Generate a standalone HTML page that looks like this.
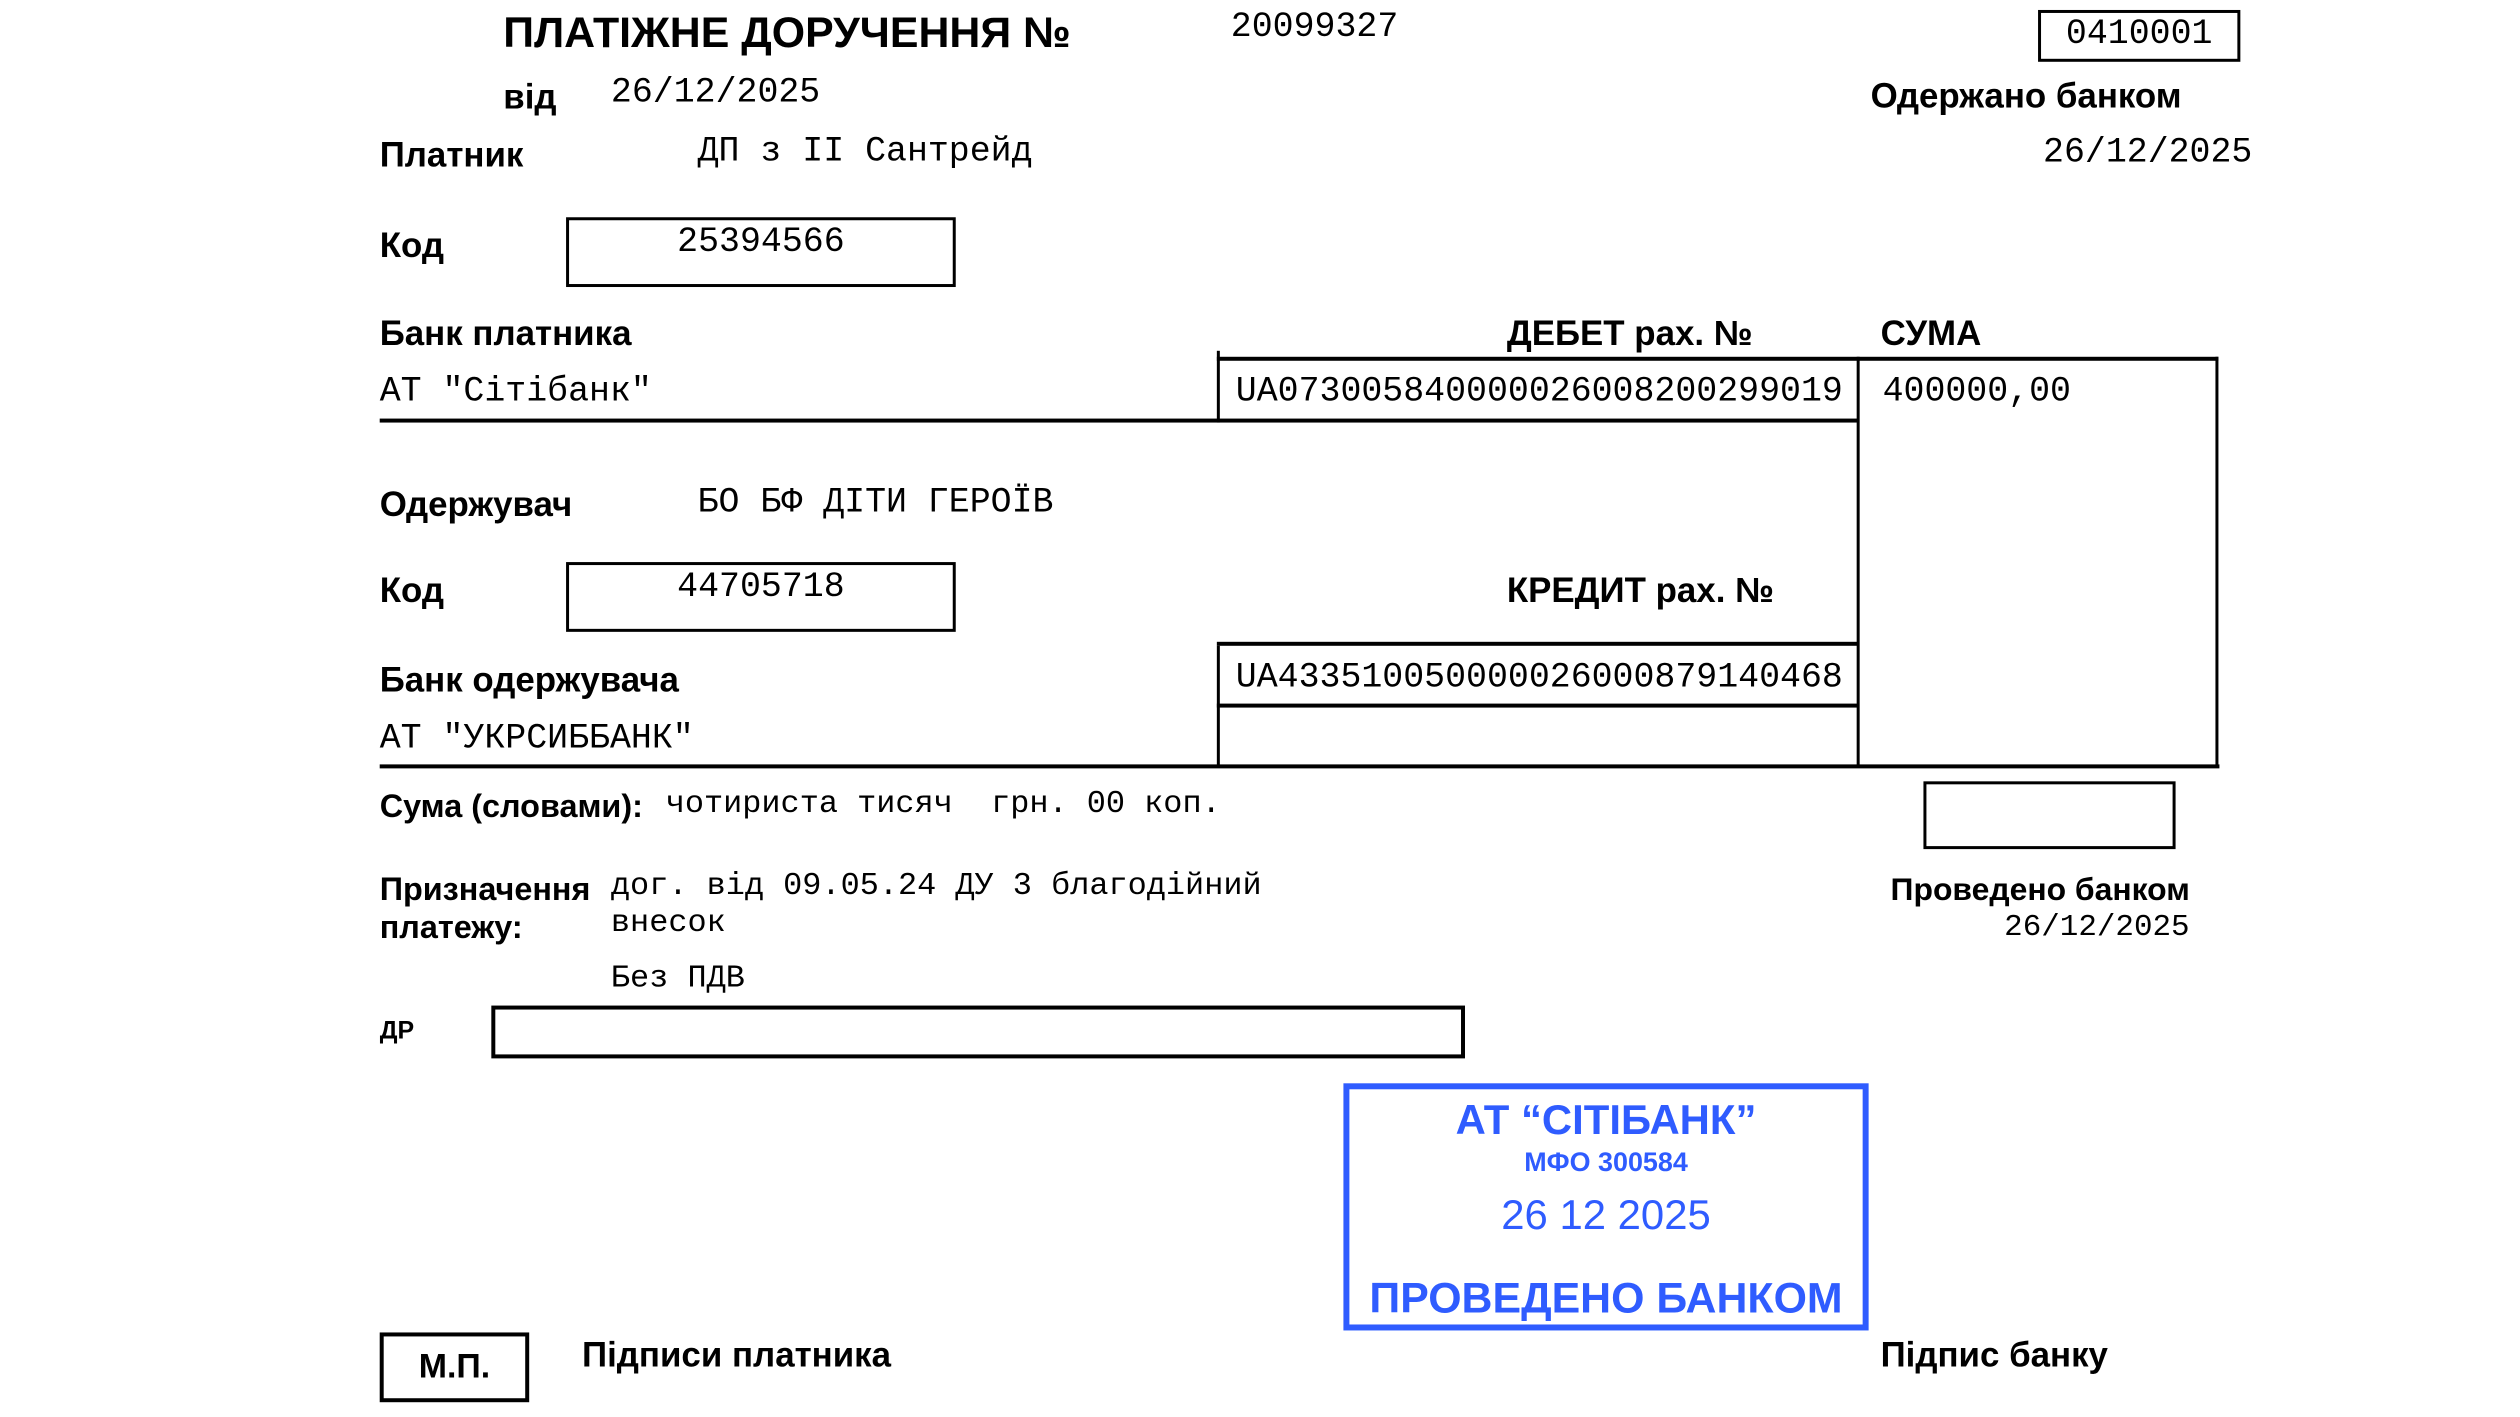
<!DOCTYPE html>
<html><head><meta charset="utf-8"><style>
body{margin:0;width:2520px;height:1417px;background:#fff;position:relative;overflow:hidden}
#w{position:absolute;left:0;top:0;width:2530px;height:1422px;transform:scale(0.9966);transform-origin:0 0}
.t{position:absolute;line-height:1;white-space:pre;color:#000}
.b{font-family:"Liberation Sans",sans-serif;font-weight:bold;font-size:35px}
.m{font-family:"Liberation Mono",monospace;font-size:35px}
.box{position:absolute;border:3px solid #000;box-sizing:border-box}
.h{position:absolute;background:#000;height:4px}
.v{position:absolute;background:#000;width:3px}
.s{position:absolute;left:1348px;width:527px;text-align:center;color:#2f5cff;font-family:"Liberation Sans",sans-serif;line-height:1}
</style></head><body><div id="w">
<div class="t b" style="left:505px;top:12px;font-size:43px">ПЛАТІЖНЕ ДОРУЧЕННЯ №</div>
<div class="t m" style="left:1235px;top:10px;font-size:35px">20099327</div>
<div class="box" style="left:2045px;top:10px;width:203px;height:52px"></div>
<div class="t m" style="left:2045px;top:17px;width:203px;text-align:center;font-size:35px">0410001</div>
<div class="t b" style="left:505px;top:80px">від</div>
<div class="t m" style="left:613px;top:76px">26/12/2025</div>
<div class="t b" style="left:1877px;top:79px">Одержано банком</div>
<div class="t b" style="left:381px;top:138px">Платник</div>
<div class="t m" style="left:700px;top:135px">ДП з ІІ Сантрейд</div>
<div class="t m" style="left:2050px;top:136px">26/12/2025</div>
<div class="t b" style="left:381px;top:229px">Код</div>
<div class="box" style="left:568px;top:218px;width:391px;height:70px"></div>
<div class="t m" style="left:568px;top:226px;width:391px;text-align:center">25394566</div>
<div class="t b" style="left:381px;top:317px">Банк платника</div>
<div class="t b" style="left:1512px;top:317px">ДЕБЕТ рах. №</div>
<div class="t b" style="left:1887px;top:317px">СУМА</div>
<div class="v" style="left:1221px;top:352px;height:72px"></div>
<div class="h" style="left:1221px;top:358px;width:1005px"></div>
<div class="v" style="left:1863px;top:358px;height:412px"></div>
<div class="v" style="left:2223px;top:358px;height:412px"></div>
<div class="t m" style="left:381px;top:376px">АТ "Сітібанк"</div>
<div class="t m" style="left:1240px;top:376px">UA073005840000026008200299019</div>
<div class="t m" style="left:1889px;top:376px">400000,00</div>
<div class="h" style="left:381px;top:420px;width:1484px"></div>
<div class="t b" style="left:381px;top:489px">Одержувач</div>
<div class="t m" style="left:700px;top:487px">БО БФ ДІТИ ГЕРОЇВ</div>
<div class="t b" style="left:381px;top:575px">Код</div>
<div class="box" style="left:568px;top:564px;width:391px;height:70px"></div>
<div class="t m" style="left:568px;top:572px;width:391px;text-align:center">44705718</div>
<div class="t b" style="left:1512px;top:575px">КРЕДИТ рах. №</div>
<div class="h" style="left:1221px;top:644px;width:644px"></div>
<div class="v" style="left:1221px;top:648px;height:122px"></div>
<div class="t m" style="left:1240px;top:663px">UA433510050000026000879140468</div>
<div class="h" style="left:1221px;top:706px;width:644px"></div>
<div class="t b" style="left:381px;top:665px">Банк одержувача</div>
<div class="t m" style="left:381px;top:724px">АТ "УКРСИББАНК"</div>
<div class="h" style="left:381px;top:767px;width:1846px"></div>
<div class="t b" style="left:381px;top:793px;font-size:32.5px">Сума (словами):</div>
<div class="t m" style="left:668px;top:791px;font-size:32px">чотириста тисяч  грн. 00 коп.</div>
<div class="box" style="left:1930px;top:784px;width:253px;height:68px"></div>
<div class="t b" style="left:381px;top:876px;font-size:32.5px">Призначення</div>
<div class="t b" style="left:381px;top:914px;font-size:32.5px">платежу:</div>
<div class="t m" style="left:613px;top:873px;font-size:32px">дог. від 09.05.24 ДУ 3 благодійний</div>
<div class="t m" style="left:613px;top:910px;font-size:32px">внесок</div>
<div class="t m" style="left:613px;top:966px;font-size:32px">Без ПДВ</div>
<div class="t b" style="left:1897px;top:876px;font-size:32px">Проведено банком</div>
<div class="t m" style="left:2011px;top:915px;font-size:31px">26/12/2025</div>
<div class="t b" style="left:381px;top:1022px;font-size:25px">ДР</div>
<div class="box" style="left:493px;top:1009px;width:977px;height:53px;border-width:4px"></div>
<div style="position:absolute;left:1348px;top:1087px;width:527px;height:248px;border:6px solid #2f5cff;box-sizing:border-box"></div>
<div class="s" style="top:1103px;font-size:42px;font-weight:bold">АТ “СІТІБАНК”</div>
<div class="s" style="top:1153px;font-size:27px;font-weight:bold">МФО 300584</div>
<div class="s" style="top:1198px;font-size:42px">26 12 2025</div>
<div class="s" style="top:1282px;font-size:43px;font-weight:bold">ПРОВЕДЕНО БАНКОМ</div>
<div class="box" style="left:381px;top:1337px;width:150px;height:70px;border-width:4px"></div>
<div class="t b" style="left:381px;top:1354px;width:150px;text-align:center;font-size:34px">М.П.</div>
<div class="t b" style="left:584px;top:1342px">Підписи платника</div>
<div class="t b" style="left:1887px;top:1342px">Підпис банку</div>
</div></body></html>
